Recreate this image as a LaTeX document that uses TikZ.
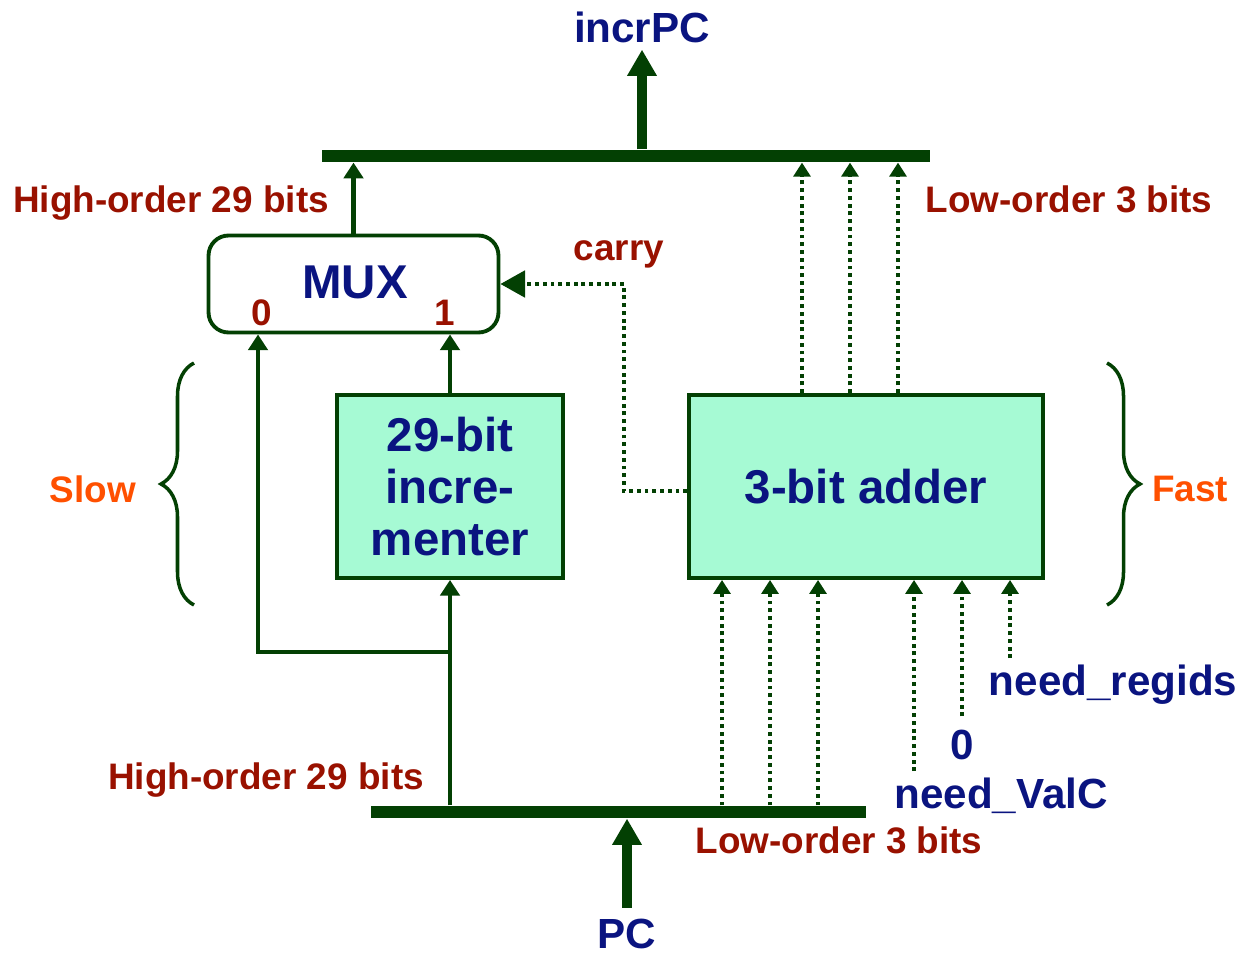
\documentclass[tikz,border=0pt]{standalone}
\usepackage{fontspec}
\setmainfont{Liberation Sans}
\usetikzlibrary{arrows.meta,positioning,decorations.pathreplacing}
\definecolor{wire}{RGB}{3,64,3}
\definecolor{boxfill}{RGB}{166,250,212}
\definecolor{lblred}{RGB}{153,17,0}
\definecolor{sigblue}{RGB}{10,20,128}
\definecolor{speed}{RGB}{255,80,0}

\begin{document}
\begin{tikzpicture}[x=0.02cm, y=-0.02cm,
	lbl/.style={text=lblred, font=\fontsize{21}{25}\selectfont\bfseries},
	sig/.style={text=sigblue, font=\fontsize{24}{28}\selectfont\bfseries},
	speedlbl/.style={text=speed, font=\fontsize{21}{25}\selectfont\bfseries},
	unit/.style={draw=wire, line width=2.2pt, fill=boxfill, text=sigblue, align=center,
		font=\fontsize{27}{29.5}\selectfont\bfseries},
	muxbox/.style={draw=wire, line width=2.2pt, fill=white, rounded corners=0.4cm,
		minimum width=5.8cm, minimum height=1.94cm},
	bus/.style={fill=wire, inner sep=0pt, minimum height=0.25cm},
	wirearr/.style={draw=wire, line width=2.3pt, -{Triangle[length=9pt,width=11pt]}},
	dotarr/.style={draw=wire, line width=2.3pt, dash pattern=on 2.2pt off 2.2pt,
		-{Triangle[length=8pt,width=9.6pt]}},
	fatarr/.style={draw=wire, line width=5.7pt, -{Triangle[length=15pt,width=16pt]}},
	speedbrace/.style={draw=wire, line width=2pt, decorate, decoration={brace, amplitude=0.66cm}}]
	%%%%% START %%%%%

	\useasboundingbox (0,0) rectangle (1243,956);

	\node[bus, minimum width=12.16cm] (topbus) at (626,156) {};
	\node[bus, minimum width=9.9cm] (pcbus) at (618.5,812) {};

	\node[muxbox] (mux) at (353.5,284) {};
	\node[text=sigblue, font=\fontsize{27}{29.5}\selectfont\bfseries, anchor=base] (muxname) at (355,298) {MUX};
	\node[lbl, anchor=base] (in0) at (262,325) {0};
	\node[lbl, anchor=base] (in1) at (445,325) {1};

	\node[unit, minimum width=4.52cm, minimum height=3.66cm] (incr) at (450,486.5) {29-bit\\incre-\\menter};
	\node[unit, minimum width=7.08cm, minimum height=3.66cm] (adder) at (866,486.5) {3-bit adder};

	\node[sig, anchor=base] (incrpc) at (642,43) {incrPC};
	\node[sig, anchor=base, inner sep=1pt] (pc) at (627,948) {PC};
	\node[lbl, anchor=base] (hitop) at (171,213) {High-order 29 bits};
	\node[lbl, anchor=base] (lotop) at (1069,213) {Low-order 3 bits};
	\node[lbl, anchor=base] (hibot) at (266,789) {High-order 29 bits};
	\node[lbl, anchor=base] (lobot) at (839,853) {Low-order 3 bits};
	\node[lbl, anchor=base] (carry) at (619,260) {carry};
	\node[sig, anchor=base] (regids) at (1113,695) {need\_regids};
	\node[sig, anchor=base] (zero) at (962,759) {0};
	\node[sig, anchor=base] (valc) at (1001,808) {need\_ValC};
	\node[speedlbl, anchor=base] (slow) at (93,502) {Slow};
	\node[speedlbl, anchor=base] (fast) at (1190,501) {Fast};

	% buses in and out
	\draw[fatarr] (topbus.north -| incrpc) -- (incrpc.south);
	\draw[fatarr, shorten <=5pt] (pc.north) -- (pcbus.south -| pc);

	% slow path
	\coordinate (split) at (450,652);
	\draw[wirearr] (pcbus.north -| incr.south) -- (incr.south);
	\draw[wirearr] (split) -| (mux.south -| 258,0);
	\draw[wirearr] (incr.north) -- (mux.south -| incr.north);
	\draw[wirearr] (mux.north) -- (topbus.south -| mux.north);

	% fast path
	\foreach \x in {722,770,818}
		\draw[dotarr] (pcbus.north -| \x,0) -- (adder.south -| \x,0);
	\foreach \x in {802,850,898}
		\draw[dotarr] (adder.north -| \x,0) -- (topbus.south -| \x,0);
	\draw[dotarr] (valc.north -| 914,0) -- (adder.south -| 914,0);
	\draw[dotarr] ([yshift=4pt]zero.north) -- (adder.south -| zero.north);
	\draw[dotarr] (regids.north -| 1010,0) -- (adder.south -| 1010,0);
	\draw[dotarr, -{Triangle[length=14pt,width=15pt]}] ([yshift=-2.8pt]adder.west) -- ++(-63,0) |- (mux.east);

	% braces
	\draw[speedbrace] (194,605) -- (194,363);
	\draw[speedbrace] (1107,363) -- (1107,605);

	%%%%% END %%%%%
\end{tikzpicture}
\end{document}
